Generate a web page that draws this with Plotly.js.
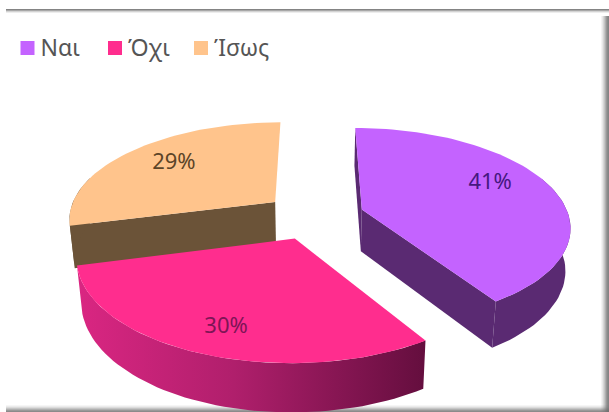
<!DOCTYPE html>
<html>
<head>
<meta charset="utf-8">
<script src="https://cdn.plot.ly/plotly-3.0.1.min.js"></script>
<style>html,body{margin:0;padding:0;background:#fff}#chart{width:609px;height:412px}</style>
</head>
<body>
<div id="chart"></div>
<script>
// Survey answers, as percentage shares of the pie
const categories = ['Ναι', 'Όχι', 'Ίσως'];
const shares = [41, 30, 29];
const tickLabels = shares.map(v => v + '%');

// Colours per slice: top face, wall, label
const topColors = ['#C463FF', '#FF2D8E', '#FFC48C'];
const wallColors = ['#5A2A72', '#B01F6C', '#6B5338'];
const labelColors = ['#45187F', '#7E1556', '#5C4428'];

// Perspective model of the exploded disc
const view = {cx: 314, cy: 216, rx: 207, ry: 96.5, persp: 0.16, explode: 0.243, depth: 42, shrink: 0.98, labelDrop: 2};
const labelRadius = [0.74, 0.785, 0.73];
const labelAngleShift = [-9, -1.5, 3];

// Legend row placement
const legendX = [27.5, 115, 201];
const legendY = 48;
const legendTextGap = 13;
const legendTextDrop = 2;

const rad = d => d * Math.PI / 180;

// Projects a point of a slice (radius r, angle deg clockwise from the back) to chart coordinates
function project(mid, r, deg, low) {
  const X = view.explode * Math.sin(rad(mid)) + r * Math.sin(rad(deg));
  const Y = view.explode * Math.cos(rad(mid)) + r * Math.cos(rad(deg));
  const s = 1 / (1 + view.persp * Y);
  let x = view.cx + view.rx * X * s;
  let y = view.cy - view.ry * Y * s;
  if (low) {
    x = view.cx + (x - view.cx) * view.shrink;
    y = view.cy + (y - view.cy) * view.shrink + view.depth * s;
  }
  return [x, y];
}

function arc(mid, a, b, low) {
  const n = Math.max(2, Math.ceil(Math.abs(b - a) / 2));
  const pts = [];
  for (let i = 0; i <= n; i++) pts.push(project(mid, 1, a + (b - a) * i / n, low));
  return pts;
}

function polygon(pts, color, extra) {
  return Object.assign({
    x: pts.map(p => p[0]).concat([pts[0][0]]),
    y: pts.map(p => p[1]).concat([pts[0][1]]),
    type: 'scatter', mode: 'lines', fill: 'toself', fillcolor: color,
    line: {width: 0, color: color}, hoverinfo: 'skip', showlegend: false
  }, extra || {});
}

// Slice extents from the shares
const spans = [];
let running = 0;
shares.forEach(v => {
  const a = running * 3.6;
  running += v;
  spans.push({a: a, b: running * 3.6, mid: (a + running * 3.6) / 2});
});

function topFace(i) {
  const s = spans[i];
  return polygon([project(s.mid, 0, 0, false)].concat(arc(s.mid, s.a, s.b, false)), topColors[i]);
}
function edgeWall(i, deg) {
  const s = spans[i];
  return polygon([project(s.mid, 0, 0, false), project(s.mid, 1, deg, false),
                  project(s.mid, 1, deg, true), project(s.mid, 0, 0, true)], wallColors[i]);
}
function outerWall(i, a, b, extra) {
  const s = spans[i];
  return polygon(arc(s.mid, a, b, false).concat(arc(s.mid, a, b, true).reverse()), wallColors[i], extra);
}

const traces = [];
// Back to front: third slice, first slice, second slice
traces.push(edgeWall(2, spans[2].a), outerWall(2, spans[2].a, spans[2].a + 30), topFace(2));
traces.push(edgeWall(0, spans[0].a), edgeWall(0, spans[0].b), outerWall(0, 70, spans[0].b), topFace(0));
traces.push(outerWall(1, spans[1].a, spans[1].b, {
  fillgradient: {type: 'horizontal', colorscale: [[0, '#DA2682'], [0.45, '#B01F6C'], [1, '#640E3E']]}
}), topFace(1));

// Percentage labels
const labelPts = spans.map((s, i) => project(s.mid, labelRadius[i], s.mid + labelAngleShift[i], false));
traces.push({
  x: labelPts.map(p => p[0]), y: labelPts.map(p => p[1] + view.labelDrop), text: tickLabels,
  type: 'scatter', mode: 'text', textposition: 'middle center',
  textfont: {family: '"Noto Sans", sans-serif', size: 22, color: labelColors},
  hoverinfo: 'skip', showlegend: false
});

// Legend row: swatches, then their names
traces.push({
  x: legendX, y: legendX.map(() => legendY),
  type: 'scatter', mode: 'markers',
  marker: {symbol: 'square', size: 14, color: topColors},
  hoverinfo: 'skip', showlegend: false
}, {
  x: legendX.map(v => v + legendTextGap), y: legendX.map(() => legendY + legendTextDrop), text: categories,
  type: 'scatter', mode: 'text', textposition: 'middle right',
  textfont: {family: '"Noto Sans", sans-serif', size: 23, color: '#555'},
  hoverinfo: 'skip', showlegend: false
});

// Soft frame: shaded bands along the top, right and bottom edges
const shapes = [];
function band(x0, y0, x1, y1, op) {
  shapes.push({type: 'rect', xref: 'paper', yref: 'paper', x0: x0 / 609, x1: x1 / 609,
    y0: 1 - y0 / 412, y1: 1 - y1 / 412, line: {width: 0}, fillcolor: 'rgba(110,110,110,' + op + ')', layer: 'below'});
}
[0.85, 0.6, 0.3, 0.12].forEach((op, i) => band(6, 9 + i, 609, 10 + i, op));
[0.85, 0.8, 0.7, 0.55, 0.4, 0.28, 0.16, 0.08].forEach((op, i) => band(608 - i, 16, 609 - i, 412, op));
[0.8, 0.7, 0.55, 0.4, 0.25, 0.14, 0.06].forEach((op, i) => band(6, 411 - i, 609, 412 - i, op));

const hidden = {visible: false, fixedrange: true};
Plotly.newPlot('chart', traces, {
  width: 609, height: 412, margin: {l: 0, r: 0, t: 0, b: 0},
  paper_bgcolor: '#fff', plot_bgcolor: 'rgba(0,0,0,0)',
  xaxis: Object.assign({range: [0, 609]}, hidden),
  yaxis: Object.assign({range: [412, 0]}, hidden),
  shapes: shapes,
  showlegend: false
}, {displayModeBar: false, staticPlot: true});
</script>
</body>
</html>
